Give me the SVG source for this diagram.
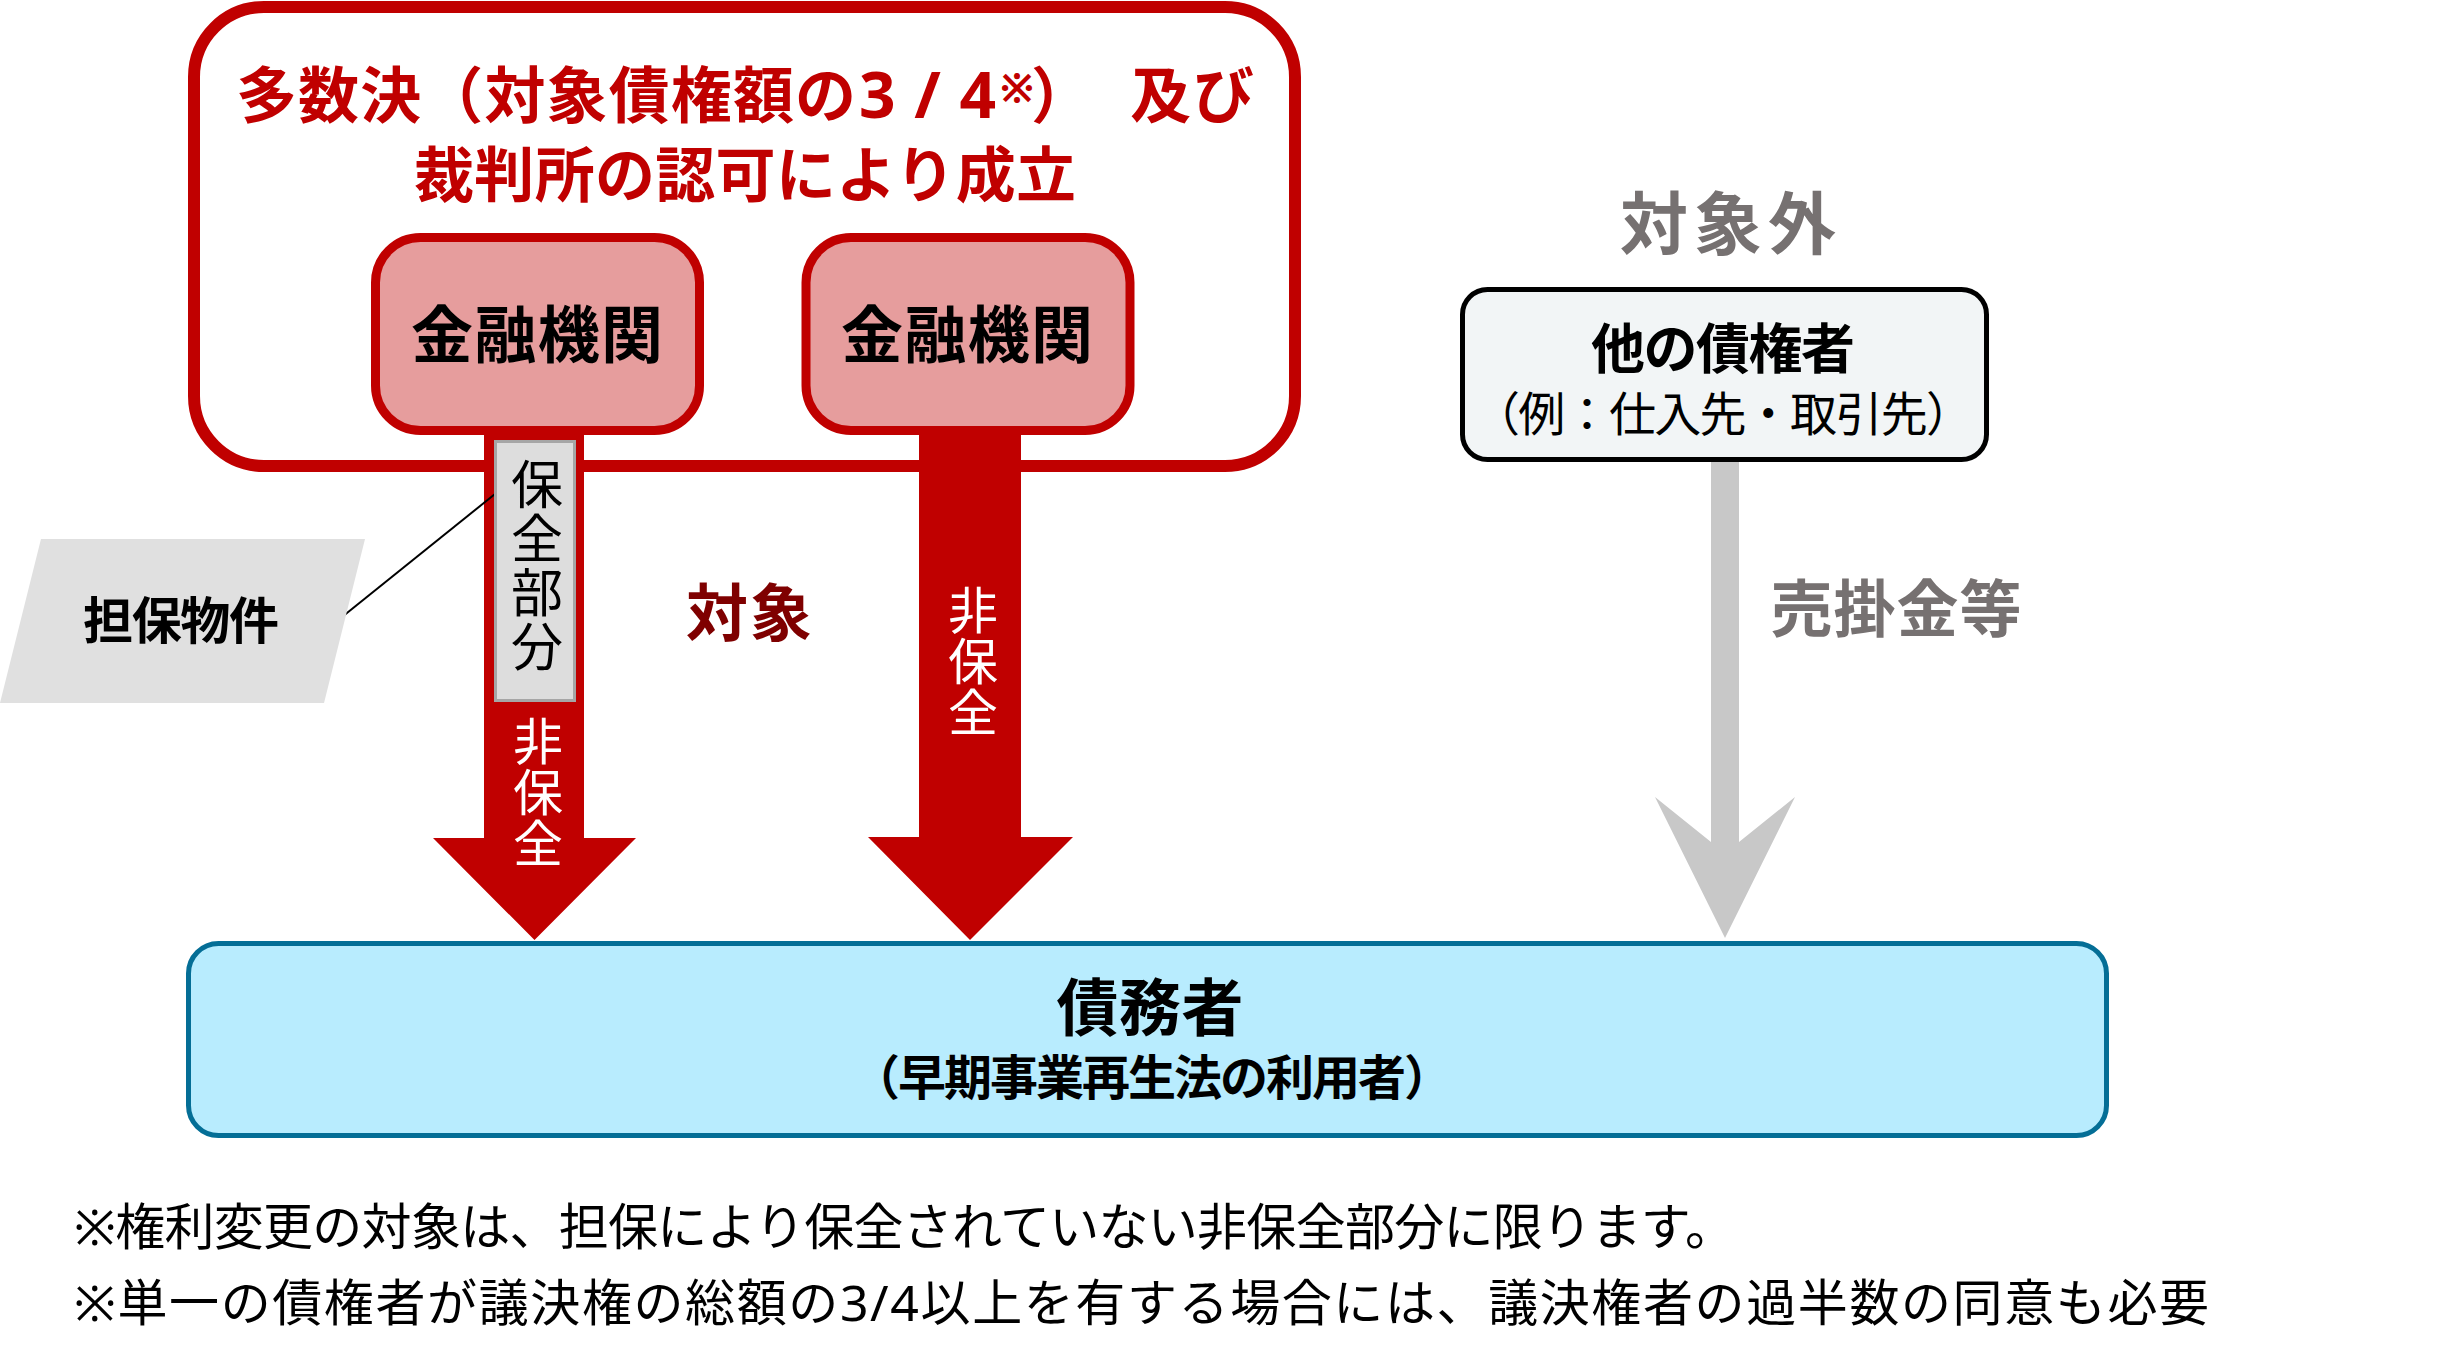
<svg xmlns="http://www.w3.org/2000/svg" width="2458" height="1368" viewBox="0 0 2458 1368">
<style>
text{font-family:'Noto Sans','Noto Sans CJK JP',sans-serif;}
.b{font-weight:700;}
.red{fill:#C00000;}
.gray{fill:#767171;}
.vt{writing-mode:vertical-rl;font-weight:400;}
.bank{fill:#E69D9D;stroke:#C00000;stroke-width:9;}
</style>
<rect width="2458" height="1368" fill="#FFFFFF"/>

<g id="group-majority">
<rect x="194" y="7" width="1101" height="459" rx="70" fill="#FFFFFF" stroke="#C00000" stroke-width="12"/>
<text class="b red" font-size="61" y="118"><tspan x="236" textLength="620" lengthAdjust="spacing">多数決（対象債権額の</tspan><tspan x="859" font-size="64" textLength="137" lengthAdjust="spacing">3/4</tspan><tspan x="1000" y="101" font-size="40">※</tspan><tspan x="1031" y="118">）</tspan><tspan x="1130" textLength="124" lengthAdjust="spacing">及び</tspan></text>
<text class="b red" font-size="60" x="414" y="197" textLength="662" lengthAdjust="spacing">裁判所の認可により成立</text>
</g>

<g id="connectors">
<polygon points="484,430 584,430 584,838 636,838 534.5,940 433,838 484,838" fill="#C00000"/>
<polygon points="919,430 1021,430 1021,837 1073,837 970,940 868,837 919,837" fill="#C00000"/>
<polygon points="1711,460 1739,460 1739,842 1795,797 1725,938 1655,797 1711,842" fill="#C8C8C8"/>
<line x1="337" y1="621" x2="495" y2="494" stroke="#000000" stroke-width="2"/>
</g>

<g id="bank1">
<rect class="bank" x="375.5" y="237.5" width="324" height="193" rx="45"/>
<text class="b" font-size="62" x="537" y="358" text-anchor="middle" textLength="252" lengthAdjust="spacing">金融機関</text>
</g>
<g id="bank2">
<rect class="bank" x="806" y="237.5" width="324" height="193" rx="45"/>
<text class="b" font-size="62" x="967" y="358" text-anchor="middle" textLength="252" lengthAdjust="spacing">金融機関</text>
</g>

<g id="secured-part">
<rect x="495.5" y="441.5" width="79" height="259" fill="#DDDDDD" stroke="#A6A6A6" stroke-width="3"/>
<text class="vt" font-size="52" x="535" y="458" letter-spacing="2">保全部分</text>
</g>

<g id="unsecured1">
<text class="vt" font-size="50" x="535" y="716" fill="#FFFFFF" letter-spacing="1">非保全</text>
</g>
<g id="unsecured2">
<text class="vt" font-size="50" x="970" y="585" fill="#FFFFFF" letter-spacing="1">非保全</text>
</g>

<g id="collateral">
<polygon points="41,539 365,539 324,703 0,703" fill="#E0E0E0"/>
<text class="b" font-size="50" x="181" y="639" text-anchor="middle" textLength="196" lengthAdjust="spacing">担保物件</text>
</g>

<g id="label-target">
<text class="b" font-size="62" x="749" y="636" text-anchor="middle" fill="#7F0000" textLength="126" lengthAdjust="spacing">対象</text>
</g>

<g id="label-excluded">
<text class="b gray" font-size="68" x="1728" y="249" text-anchor="middle" textLength="216" lengthAdjust="spacing">対象外</text>
</g>

<g id="other-creditors">
<rect x="1462.5" y="289.5" width="524" height="170" rx="25" fill="#F2F5F6" stroke="#000000" stroke-width="5"/>
<text class="b" font-size="54" x="1723" y="369" text-anchor="middle" textLength="264" lengthAdjust="spacing">他の債権者</text>
<text font-size="47" x="1723" y="431" text-anchor="middle" textLength="500" lengthAdjust="spacing">（例：仕入先・取引先）</text>
</g>

<g id="label-receivables">
<text class="b gray" font-size="62" x="1896" y="632" text-anchor="middle" textLength="251" lengthAdjust="spacing">売掛金等</text>
</g>

<g id="debtor">
<rect x="188.5" y="943.5" width="1918" height="192" rx="30" fill="#B8ECFE" stroke="#046E96" stroke-width="5"/>
<text class="b" font-size="62" x="1150" y="1031" text-anchor="middle" textLength="187" lengthAdjust="spacing">債務者</text>
<text class="b" font-size="48" x="1152" y="1095" text-anchor="middle" textLength="600" lengthAdjust="spacing">（早期事業再生法の利用者）</text>
</g>

<g id="notes">
<text font-size="50" x="74" y="1245" textLength="1661" lengthAdjust="spacing">※権利変更の対象は、担保により保全されていない非保全部分に限ります。</text>
<text font-size="50" x="74" y="1321" textLength="2135" lengthAdjust="spacing">※単一の債権者が議決権の総額の3/4以上を有する場合には、議決権者の過半数の同意も必要</text>
</g>
</svg>
